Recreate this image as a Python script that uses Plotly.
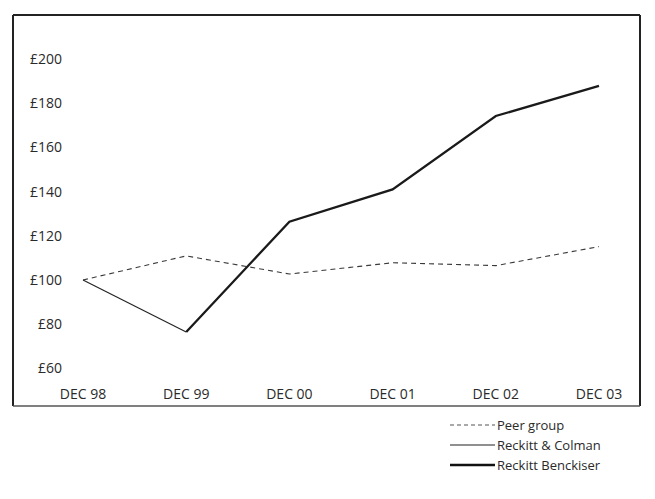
import plotly.graph_objects as go

# Values of a hypothetical £100 investment, December each year
periods = ["DEC 98", "DEC 99", "DEC 00", "DEC 01", "DEC 02", "DEC 03"]
peer_group = [100, 110.9, 102.7, 107.8, 106.5, 115.1]
reckitt_colman = [100, 76.5]                      # DEC 98 - DEC 99
reckitt_benckiser = [76.5, 126.4, 141.0, 174.2, 187.8]  # DEC 99 - DEC 03
y_ticks = [60, 80, 100, 120, 140, 160, 180, 200]
y_tick_text = ["£%d" % v for v in y_ticks]

W, H = 655, 499
M_L, M_R, M_T, M_B = 67, 25, 10, 115
PW, PH = W - M_L - M_R, H - M_T - M_B

FONT = "Open Sans"
TXT = "#2a2a2a"


def px_x(px):
    return (px - M_L) / PW


def px_y(py):
    return (H - M_B - py) / PH


fig = go.Figure()
fig.add_trace(go.Scatter(
    x=periods, y=peer_group, mode="lines", name="Peer group",
    line=dict(color="#3a3a3a", width=1.1, dash="5px,4px")))
fig.add_trace(go.Scatter(
    x=periods[:2], y=reckitt_colman, mode="lines", name="Reckitt & Colman",
    line=dict(color="#222222", width=1.1)))
fig.add_trace(go.Scatter(
    x=periods[1:], y=reckitt_benckiser, mode="lines", name="Reckitt Benckiser",
    line=dict(color="#1a1a1a", width=2.3)))

# Frame around the chart
FL, FR, FT, FB = 13, 640, 15, 406
shapes = [
    dict(type="line", xref="paper", yref="paper", x0=px_x(FL), x1=px_x(FL),
         y0=px_y(FB), y1=px_y(FT), line=dict(color="#222", width=2)),
    dict(type="line", xref="paper", yref="paper", x0=px_x(FL), x1=px_x(FR),
         y0=px_y(FT), y1=px_y(FT), line=dict(color="#222", width=2)),
    dict(type="line", xref="paper", yref="paper", x0=px_x(FR), x1=px_x(FR),
         y0=px_y(FB), y1=px_y(FT), line=dict(color="#222", width=2)),
    dict(type="line", xref="paper", yref="paper", x0=px_x(FL), x1=px_x(FR),
         y0=px_y(FB), y1=px_y(FB), line=dict(color="#555", width=1.5)),
]

# Key below the frame
annotations = []
key = [
    ("Peer group", dict(color="#555", width=1.1, dash="4px,3px")),
    ("Reckitt & Colman", dict(color="#222", width=1.1)),
    ("Reckitt Benckiser", dict(color="#111", width=2.6)),
]
for i, (label, style) in enumerate(key):
    yy = 425 + i * 20
    shapes.append(dict(type="line", xref="paper", yref="paper",
                       x0=px_x(450), x1=px_x(495), y0=px_y(yy), y1=px_y(yy),
                       line=style))
    annotations.append(dict(text=label, xref="paper", yref="paper",
                            x=px_x(495), y=px_y(yy), xanchor="left",
                            yanchor="middle", showarrow=False,
                            font=dict(family=FONT, size=13, color=TXT)))

span = 5 / ((599 - 83) / PW)
x_min = -(83 - M_L) / PW * span
unit = 44.2 / 20
y_max = 100 + (280 - M_T) / unit
y_min = y_max - PH / unit

fig.update_layout(
    width=W, height=H,
    margin=dict(l=M_L, r=M_R, t=M_T, b=M_B),
    paper_bgcolor="white", plot_bgcolor="white",
    showlegend=False,
    font=dict(family=FONT, size=14, color=TXT),
    shapes=shapes, annotations=annotations,
    xaxis=dict(type="category", range=[x_min, x_min + span],
               showgrid=False, zeroline=False, showline=False, ticks="",
               tickfont=dict(size=14, color=TXT)),
    yaxis=dict(range=[y_min, y_max], tickmode="array", tickvals=y_ticks,
               ticktext=y_tick_text,
               showgrid=False, zeroline=False, showline=False, ticks="",
               ticklabelstandoff=4, tickfont=dict(size=14, color=TXT)),
)

fig.write_html("out.html")
